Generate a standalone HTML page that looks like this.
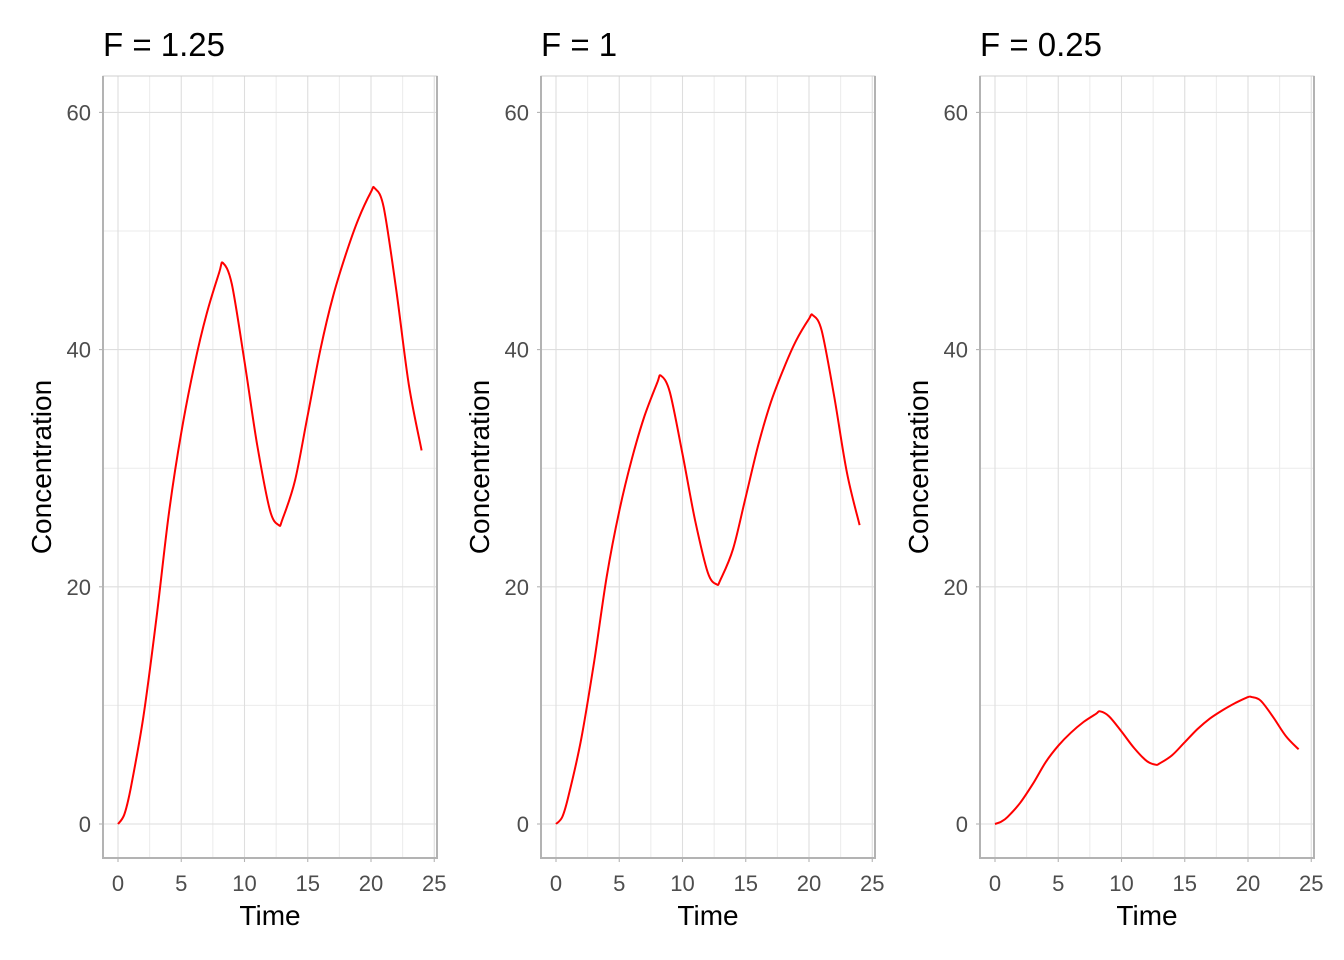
<!DOCTYPE html>
<html><head><meta charset="utf-8"><style>
body{margin:0;background:#fff}
svg{display:block;font-family:"Liberation Sans",Arial,sans-serif}
</style></head><body>
<svg id="chart" width="1344" height="960"></svg>
<script>
const times=[0,0.5,1,2,3,4,5,6,7,8,8.3,9,10,11,12,12.7,13,14,15,16,17,18,19,20,20.3,21,22,23,24];
const concF125=[0,0.8,3,9,17,26,33,38.5,43,46.5,47.3,45.5,39,32,26.5,25.2,25.7,29,34.5,40,44.5,48,51,53.3,53.6,52,45,37,31.5];
const concF1=[0,0.6,2.4,7.2,13.6,20.8,26.4,30.8,34.4,37.2,37.8,36.4,31.2,25.6,21.2,20.2,20.6,23.2,27.6,32,35.6,38.4,40.8,42.6,42.9,41.6,36,29.6,25.2];
const concF025=[0,0.2,0.6,1.8,3.4,5.2,6.6,7.7,8.6,9.3,9.5,9.1,7.8,6.4,5.3,5.0,5.1,5.8,6.9,8,8.9,9.6,10.2,10.7,10.7,10.4,9,7.4,6.3];
const panelTitles=["F = 1.25","F = 1","F = 0.25"];
const xTicks=[0,5,10,15,20,25];
const yTicks=[0,20,40,60];
const series=[concF125,concF1,concF025];
const panelLeft=[103,541,980];
const NS="http://www.w3.org/2000/svg";
const svg=document.getElementById('chart');
function mk(tag,attrs,parent){const e=document.createElementNS(NS,tag);for(const k in attrs)e.setAttribute(k,attrs[k]);(parent||svg).appendChild(e);return e;}
function smooth(pts){
  let d='M'+pts[0][0].toFixed(1)+' '+pts[0][1].toFixed(1);
  for(let i=0;i<pts.length-1;i++){
    const p0=pts[i-1]||pts[i],p1=pts[i],p2=pts[i+1],p3=pts[i+2]||p2;
    const c1=[p1[0]+(p2[0]-p0[0])/6,p1[1]+(p2[1]-p0[1])/6];
    const c2=[p2[0]-(p3[0]-p1[0])/6,p2[1]-(p3[1]-p1[1])/6];
    d+=` C${c1[0].toFixed(1)} ${c1[1].toFixed(1)} ${c2[0].toFixed(1)} ${c2[1].toFixed(1)} ${p2[0].toFixed(1)} ${p2[1].toFixed(1)}`;
  }
  return d;
}
const plotTop=76,plotBottom=858,w=334;
panelLeft.forEach((L,p)=>{
  const g=mk('g',{});
  
  
  const sx=v=>L+15+v*12.65;
  const sy=v=>824-v*11.86;
  for(let v=2.5;v<25;v+=5){const l=mk('line',{x1:sx(v),x2:sx(v),y1:plotTop,y2:plotBottom,stroke:'#ebebeb','stroke-width':1},g);
    
    }
  for(let v=-10;v<=70;v+=20){if(sy(v)>plotTop&&sy(v)<plotBottom){const l=mk('line',{x1:L,x2:L+w,y1:sy(v),y2:sy(v),stroke:'#ebebeb','stroke-width':1},g);
    
    }}
  xTicks.forEach(v=>{const l=mk('line',{x1:sx(v),x2:sx(v),y1:plotTop,y2:plotBottom,stroke:'#dedede','stroke-width':1.1},g);
    
    
    const t=mk('line',{x1:sx(v),x2:sx(v),y1:plotBottom,y2:plotBottom+4,stroke:'#b3b3b3','stroke-width':1.1},g);
    
    
    const tx=mk('text',{x:sx(v),y:891,'text-anchor':'middle','font-size':22,fill:'#4d4d4d'},g);tx.textContent=v;
    
    });
  yTicks.forEach(v=>{const l=mk('line',{x1:L,x2:L+w,y1:sy(v),y2:sy(v),stroke:'#dedede','stroke-width':1.1},g);
    
    
    const t=mk('line',{x1:L-4,x2:L,y1:sy(v),y2:sy(v),stroke:'#b3b3b3','stroke-width':1.1},g);
    
    
    const tx=mk('text',{x:L-12,y:sy(v)+8,'text-anchor':'end','font-size':22,fill:'#4d4d4d'},g);tx.textContent=v;
    
    });
  const b=mk('rect',{x:L,y:plotTop,width:w,height:plotBottom-plotTop,fill:'none',stroke:'#cfcfcf','stroke-width':1},g);
  
  
  const ax=mk('path',{d:`M${L} ${plotTop} V${plotBottom} H${L+w} V${plotTop}`,fill:'none',stroke:'#b3b3b3','stroke-width':2},g);
  
  
  const pts=series[p].map((v,i)=>[sx(times[i]),sy(v)]);
  const ln=mk('path',{d:smooth(pts),fill:'none',stroke:'#ff0000','stroke-width':2,'stroke-linejoin':'round'},g);
  
  
  const tt=mk('text',{x:L,y:56,'font-size':33,fill:'#000'},g);tt.textContent=panelTitles[p];
  
  
  const xt=mk('text',{x:L+w/2,y:925,'text-anchor':'middle','font-size':28,fill:'#000'},g);xt.textContent='Time';
  
  
  const yt=mk('text',{x:0,y:0,'text-anchor':'middle','font-size':28,fill:'#000',transform:`translate(${L-52},${(plotTop+plotBottom)/2}) rotate(-90)`},g);yt.textContent='Concentration';
  
  
});
</script>
</body></html>
